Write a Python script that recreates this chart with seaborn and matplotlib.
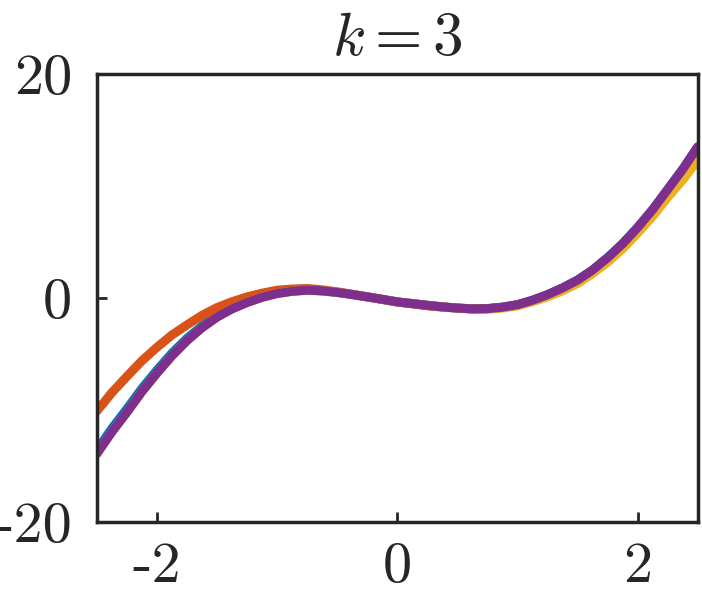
import numpy as np
import pandas as pd
import matplotlib
matplotlib.use('Agg')
import matplotlib.pyplot as plt
import seaborn as sns

# sample positions along x (step 0.125)
x_vals = [-2.5, -2.375, -2.25, -2.125, -2.0, -1.875, -1.75, -1.625, -1.5, -1.375,
          -1.25, -1.125, -1.0, -0.875, -0.75, -0.625, -0.5, -0.375, -0.25, -0.125,
          0.0, 0.125, 0.25, 0.375, 0.5, 0.625, 0.75, 0.875, 1.0, 1.125,
          1.25, 1.375, 1.5, 1.625, 1.75, 1.875, 2.0, 2.125, 2.25, 2.375, 2.5]

# curves
blue_vals = [-13.6, -11.65, -9.9, -8.08, -6.45, -4.92, -3.6, -2.5, -1.55, -0.87,
             -0.3, 0.12, 0.45, 0.62, 0.7, 0.64, 0.5, 0.31, 0.1, -0.12,
             -0.35, -0.5, -0.65, -0.79, -0.9, -0.97, -0.95, -0.82, -0.6, -0.2,
             0.3, 0.9, 1.6, 2.5, 3.6, 4.85, 6.3, 7.9, 9.7, 11.5, 13.5]
orange_vals = [-10.1, -8.45, -7.0, -5.6, -4.4, -3.3, -2.4, -1.55, -0.85, -0.33,
               0.1, 0.43, 0.7, 0.8, 0.85, 0.73, 0.55, 0.34, 0.1, -0.12,
               -0.35, -0.52, -0.7, -0.81, -0.9, -0.97, -0.95, -0.83, -0.6, -0.25,
               0.2, 0.8, 1.5, 2.4, 3.4, 4.6, 6.0, 7.5, 9.2, 10.85, 12.7]
yellow_vals = [-13.9, -11.95, -10.2, -8.35, -6.7, -5.15, -3.8, -2.65, -1.7, -0.97,
               -0.4, 0.06, 0.4, 0.6, 0.7, 0.64, 0.5, 0.31, 0.1, -0.12,
               -0.35, -0.5, -0.65, -0.79, -0.9, -0.99, -1.0, -0.9, -0.7, -0.33,
               0.1, 0.65, 1.3, 2.2, 3.2, 4.4, 5.8, 7.3, 9.0, 10.55, 12.3]
purple_vals = [-13.9, -11.95, -10.2, -8.35, -6.7, -5.15, -3.8, -2.65, -1.7, -0.97,
               -0.4, 0.06, 0.4, 0.6, 0.7, 0.64, 0.5, 0.31, 0.1, -0.12,
               -0.35, -0.5, -0.65, -0.79, -0.9, -0.97, -0.95, -0.82, -0.6, -0.2,
               0.3, 0.9, 1.6, 2.5, 3.6, 4.85, 6.3, 7.9, 9.7, 11.5, 13.5]

series = ['s1', 's2', 's3', 's4']
colors = ['#0072BD', '#D95319', '#EDB120', '#7E2F8E']

x_ticks = [-2, 0, 2]
x_ticklabels = ['-2', '0', '2']
y_ticks = [-20, 0, 20]
y_ticklabels = ['-20', '0', '20']

df = pd.DataFrame({
    'x': x_vals * 4,
    'y': blue_vals + orange_vals + yellow_vals + purple_vals,
    'series': [s for s in series for _ in x_vals],
})

sns.set_theme(style='white')
plt.rcParams['mathtext.fontset'] = 'cm'
plt.rcParams['axes.unicode_minus'] = False

fig = plt.figure(figsize=(7.02, 5.95), dpi=100)
ax = fig.add_axes([0.138, 0.1227, 0.856, 0.7529])

sns.lineplot(data=df, x='x', y='y', hue='series', palette=colors,
             linewidth=6.5, legend=False, ax=ax, sort=False)

ax.set_xlim(-2.5, 2.5)
ax.set_ylim(-20, 20)
ax.set_xticks(x_ticks)
ax.set_xticklabels(x_ticklabels, fontfamily='cmr10', fontsize=42)
ax.set_yticks(y_ticks)
ax.set_yticklabels(y_ticklabels, fontfamily='cmr10', fontsize=42)
ax.set_xlabel('')
ax.set_ylabel('')
ax.tick_params(direction='in', length=7, width=2, color='#262626',
               bottom=True, left=True, top=False, right=False)
ax.tick_params(axis='x', pad=14)
ax.tick_params(axis='y', pad=18)
for sp in ax.spines.values():
    sp.set_color('#262626')
    sp.set_linewidth(2.5)

ax.set_title('$k = 3$', fontsize=44, pad=14)

fig.savefig('out.png', dpi=100)
